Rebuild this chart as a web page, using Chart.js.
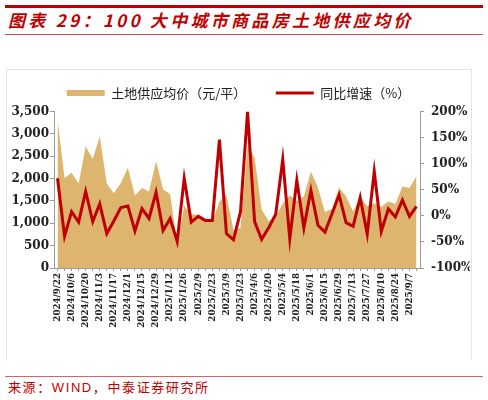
<!DOCTYPE html>
<html>
<head>
<meta charset="utf-8">
<script src="https://cdn.jsdelivr.net/npm/chart.js@4.4.1/dist/chart.umd.min.js"></script>
<style>
  html, body { margin: 0; padding: 0; background: #fff; }
  #page { position: relative; width: 488px; height: 400px; overflow: hidden; background: #fff; }
  .bar-top { position: absolute; left: 5px; top: 5px; width: 478px; height: 2.5px; background: #c00000; }
  #title { position: absolute; left: 8px; top: 9px; font: italic bold 17px "Noto Sans CJK SC"; color: #c00000;
           letter-spacing: 3.3px; white-space: nowrap; line-height: 22px; }
  .rule-title { position: absolute; left: 5px; top: 34px; width: 478px; height: 1px; background: #d84a4a; }
  #box { position: absolute; left: 6px; top: 69px; width: 464px; height: 290px; border: 1px solid #e3e3e3; border-bottom: none; }
  #chart-wrap { position: absolute; left: 7px; top: 57px; width: 463px; height: 291px; }
  .rule-foot { position: absolute; left: 5px; top: 375.5px; width: 478px; height: 1.5px; background: #e06060; }
  #source { position: absolute; left: 8px; top: 380px; font: 13px "Liberation Sans", "Noto Sans CJK SC"; color: #c00000;
            letter-spacing: 1.6px; line-height: 16px; white-space: nowrap; }
</style>
</head>
<body>
<div id="page">
  <div class="bar-top"></div>
  <div id="title">图表 29：100 大中城市商品房土地供应均价</div>
  <div class="rule-title"></div>
  <div id="box"></div>
  <div id="chart-wrap"><canvas id="landChart"></canvas></div>
  <div class="rule-foot"></div>
  <div id="source">来源：WIND，中泰证券研究所</div>
</div>
<script>
// ----- DATI -----
// settimane (una ogni 7 giorni), etichetta visibile una sì e una no
const weeks = [
  '2024/9/22', '2024/9/29', '2024/10/6', '2024/10/13', '2024/10/20', '2024/10/27',
  '2024/11/3', '2024/11/10', '2024/11/17', '2024/11/24', '2024/12/1', '2024/12/8',
  '2024/12/15', '2024/12/22', '2024/12/29', '2025/1/5', '2025/1/12', '2025/1/19',
  '2025/1/26', '2025/2/2', '2025/2/9', '2025/2/16', '2025/2/23', '2025/3/2',
  '2025/3/9', '2025/3/16', '2025/3/23', '2025/3/30', '2025/4/6', '2025/4/13',
  '2025/4/20', '2025/4/27', '2025/5/4', '2025/5/11', '2025/5/18', '2025/5/25',
  '2025/6/1', '2025/6/8', '2025/6/15', '2025/6/22', '2025/6/29', '2025/7/6',
  '2025/7/13', '2025/7/20', '2025/7/27', '2025/8/3', '2025/8/10', '2025/8/17',
  '2025/8/24', '2025/8/31', '2025/9/7', '2025/9/14'
];

// 土地供应均价（元/平）
const landPrice = [
  3315, 2010, 2130, 1890, 2720, 2440, 2940, 1890, 1670, 1900,
  2240, 1620, 1790, 1710, 2390, 1760, 1650, 560, 1390, 1200,
  1190, 1120, 1040, 1480, 1640, 850, 900, 2740, 2470, 1300,
  1050, 1150, 1450, 1620, 1500, 1600, 2160, 1800, 1250, 1320,
  1800, 1600, 1265, 1580, 1380, 1450, 1370, 1490, 1430, 1820,
  1790, 2050
];

// 同比增速（%）
const yoyGrowth = [
  72, -39, 8, -12, 47, -11, 23, -34, -10, 16,
  19, -29, 14, -5, 45, -28, -5, -49, 72, -12,
  -1, -9, -9, 146, -34, -46, 8, 200, -11, -45,
  -23, 3, 108, -44, 68, -23, 49, -18, -31, 4,
  40, -13, -20, 35, -35, 85, -30, 13, -2, 30,
  -1, 18
];

const leftTicks = [0, 3500, 500];     // min, max, passo
const rightTicks = [-100, 200, 50];

// ----- STILI -----
const TAN = '#DDB56E';
const RED = '#C00000';
const AXIS_GRAY = '#9a9a9a';
const tickFont = { family: 'DejaVu Serif', size: 12, weight: 'bold' };

// un po' di spazio in più sotto la legenda
const legendSpacer = {
  id: 'legendSpacer',
  beforeInit(chart) {
    const origFit = chart.legend.fit;
    chart.legend.fit = function () {
      origFit.call(this);
      this.height += 2;
    };
  }
};

const ctx = document.getElementById('landChart').getContext('2d');
new Chart(ctx, {
  type: 'line',
  data: {
    labels: weeks,
    datasets: [
      {
        label: '同比增速（%）',
        data: yoyGrowth,
        yAxisID: 'y1',
        borderColor: RED,
        backgroundColor: RED,
        borderWidth: 3,
        pointRadius: 0,
        pointStyle: 'line',
        tension: 0,
        fill: false
      },
      {
        label: '土地供应均价（元/平）',
        data: landPrice,
        yAxisID: 'y',
        borderColor: TAN,
        backgroundColor: TAN,
        borderWidth: 0,
        pointRadius: 0,
        pointStyle: 'rect',
        tension: 0,
        fill: 'origin'
      }
    ]
  },
  plugins: [legendSpacer],
  options: {
    responsive: true,
    maintainAspectRatio: false,
    animation: false,
    layout: { padding: 0 },
    plugins: {
      tooltip: { enabled: false },
      legend: {
        position: 'top',
        labels: {
          usePointStyle: true,
          pointStyleWidth: 38,
          boxHeight: 6,
          padding: 29.5,
          color: '#222',
          font: { family: 'Noto Sans CJK SC', size: 13 },
          sort: (a, b) => b.datasetIndex - a.datasetIndex
        }
      }
    },
    scales: {
      x: {
        offset: true,
        grid: { display: true, drawOnChartArea: false, tickLength: 3, color: AXIS_GRAY },
        border: { color: AXIS_GRAY },
        ticks: {
          autoSkip: false,
          maxRotation: 90,
          minRotation: 90,
          padding: 2,
          color: '#222',
          font: { family: 'DejaVu Serif', size: 8.7, weight: 'bold' },
          callback: function (v, i) { return i % 2 === 0 ? this.getLabelForValue(v) : ''; }
        },
        afterFit: s => { s.height = 80; }
      },
      y: {
        position: 'left',
        min: leftTicks[0],
        max: leftTicks[1],
        grid: { drawOnChartArea: false, tickLength: 4, color: AXIS_GRAY },
        border: { color: AXIS_GRAY },
        ticks: {
          stepSize: leftTicks[2],
          padding: 1,
          color: '#222',
          font: tickFont,
          callback: v => v.toLocaleString('en-US')
        },
        afterFit: s => { s.width = 47; }
      },
      y1: {
        position: 'right',
        min: rightTicks[0],
        max: rightTicks[1],
        grid: { drawOnChartArea: false, tickLength: 4, color: AXIS_GRAY },
        border: { color: AXIS_GRAY },
        ticks: {
          stepSize: rightTicks[2],
          padding: 7,
          color: '#222',
          font: tickFont,
          callback: v => v + '%'
        },
        afterFit: s => { s.width = 50; }
      }
    }
  }
});
</script>
</body>
</html>
